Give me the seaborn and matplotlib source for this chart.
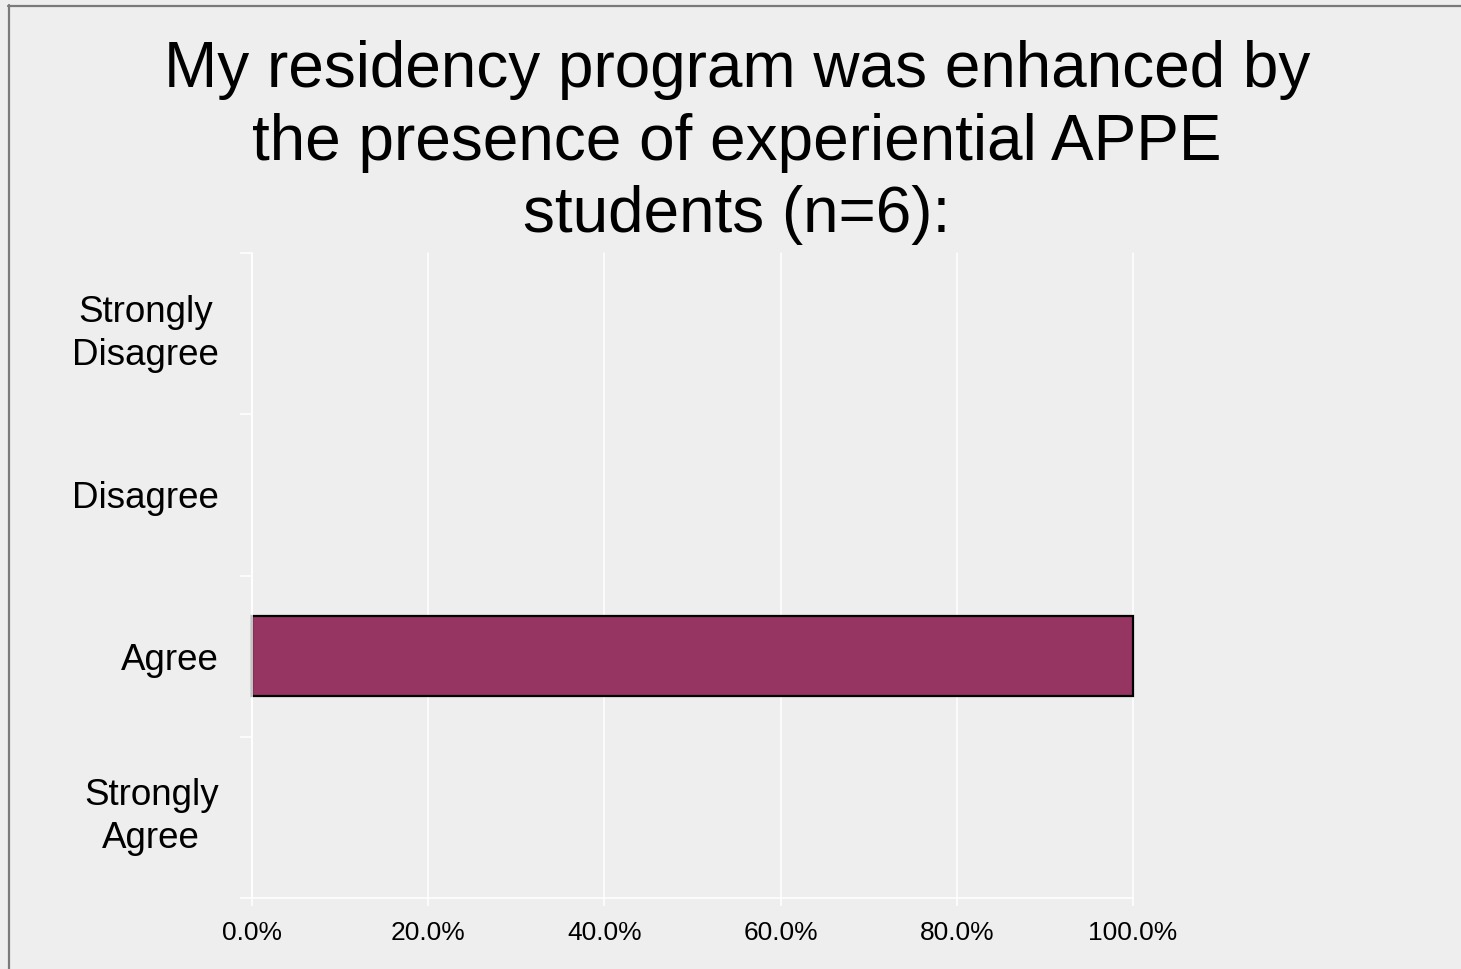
import matplotlib
matplotlib.use("Agg")
import matplotlib.pyplot as plt
import seaborn as sns
import pandas as pd
from matplotlib.lines import Line2D
from matplotlib.ticker import FuncFormatter, FixedLocator

categories = ["Strongly\nDisagree", "Disagree", "Agree", "Strongly\nAgree"]
values = [0.0, 0.0, 1.0, 0.0]
xticks = [0.0, 0.2, 0.4, 0.6, 0.8, 1.0]
title = "My residency program was enhanced by\nthe presence of experiential APPE\nstudents (n=6):"

sns.set_theme(style="dark")
plt.rcParams["font.family"] = ["Liberation Sans", "DejaVu Sans"]

BG = "#eeeeee"
W, H = 1461, 969
fig = plt.figure(figsize=(W / 100, H / 100), dpi=100, facecolor=BG)
ax = fig.add_axes([252 / W, (H - 898) / H, (1133 - 252) / W, (898 - 253) / H])
ax.set_facecolor(BG)
ax.patch.set_visible(False)

df = pd.DataFrame({"cat": categories, "val": values})
sns.barplot(data=df, y="cat", x="val", orient="h", color="#963462",
            saturation=1, width=0.5, edgecolor="black", linewidth=1.6, ax=ax,
            order=categories)
for p in ax.patches:
    if p.get_width() == 0:
        p.set_visible(False)
    p.set_clip_on(False)

ax.set_xlim(0, 1.0)
ax.set_ylim(3.5, -0.5)
ax.set_xticks(xticks)
ax.xaxis.set_major_formatter(FuncFormatter(lambda v, _: f"{v*100:.1f}%"))
ax.grid(axis="x", color="white", linewidth=1.1)
ax.grid(axis="y", visible=False)
ax.set_axisbelow(True)
for gl in ax.get_xgridlines():
    gl.set_clip_on(False)

ax.set_yticks(range(len(categories)))
ax.set_yticklabels(categories, fontsize=26.5, color="black", multialignment="center",
                   linespacing=1.3)
for lbl in ax.get_yticklabels():
    if "\n" in lbl.get_text():
        lbl.set_va("center")
ax.yaxis.set_minor_locator(FixedLocator([-0.5, 0.5, 1.5, 2.5, 3.5]))
ax.tick_params(axis="y", which="major", length=0, pad=24)
ax.tick_params(axis="y", which="minor", length=8.6, width=1.1, color="white", left=True)
ax.tick_params(axis="x", which="major", length=5.8, width=1.1, color="white",
               labelsize=19, labelcolor="black", pad=10.5, bottom=True)
ax.set_xlabel("")
ax.set_ylabel("")

for s in ["top", "right"]:
    ax.spines[s].set_visible(False)
for s in ["left", "bottom"]:
    ax.spines[s].set_visible(True)
    ax.spines[s].set_color("white")
    ax.spines[s].set_linewidth(1.1)

fig.text(737 / W, 1 - 40 / H, title, ha="center", va="top", fontsize=46,
         linespacing=1.27, color="black")

fig.add_artist(Line2D([8.5 / W, 8.5 / W], [0, 1 - 5 / H], transform=fig.transFigure,
                      color="#7a7a7a", linewidth=1.6))
fig.add_artist(Line2D([8 / W, 1], [1 - 5.5 / H, 1 - 5.5 / H], transform=fig.transFigure,
                      color="#7a7a7a", linewidth=1.6))

fig.savefig("out.png", dpi=100, facecolor=BG)
